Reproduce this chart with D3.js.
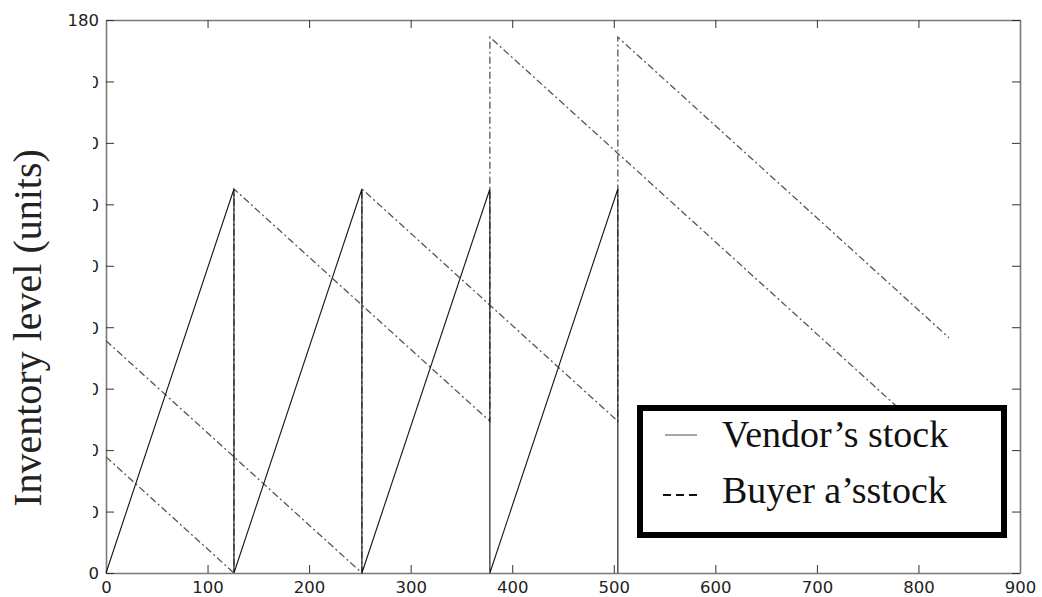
<!DOCTYPE html>
<html>
<head>
<meta charset="utf-8">
<script src="https://cdn.jsdelivr.net/npm/d3@7"></script>
<style>
  body { margin: 0; background: #fff; }
  svg { display: block; }
</style>
</head>
<body>
<div id="chart"></div>
<script>
// data
const xTicks = [0, 100, 200, 300, 400, 500, 600, 700, 800, 900];
const yTicks = [0, 20, 40, 60, 80, 100, 120, 140, 160, 180];

const vendorT = [0, 126, 126, 252, 252, 378, 378, 504, 504];
const vendorQ = [0, 125, 0, 125, 0, 125, 0, 125, 0];

const buyer1T = [0, 126, 126, 378, 378, 830];
const buyer1Q = [37.8, 0, 125, 49.4, 174.4, 38.8];

const buyer2T = [0, 252, 252, 504, 504, 830];
const buyer2Q = [75.6, 0, 125, 49.4, 174.4, 76.6];

const legendLabels = ['Vendor\u2019s stock', 'Buyer a\u2019sstock'];
const yTitle = 'Inventory level (units)';

const W = 1042, H = 597;
const margin = {top: 20, right: 22, bottom: 24, left: 106};

const svg = d3.select('#chart').append('svg')
  .attr('width', W).attr('height', H);

const x = d3.scaleLinear().domain([0, 900]).range([margin.left, W - margin.right]);
const y = d3.scaleLinear().domain([0, 180]).range([H - margin.bottom, margin.top]);

const axisColor = '#7a7a7a';
const tickFont = '"DejaVu Sans", Verdana, sans-serif';

// axes: ticks inward on all four sides (matlab style box)
const gx = svg.append('g').attr('transform', `translate(0,${y(0)})`)
  .call(d3.axisBottom(x).tickValues(xTicks).tickSizeInner(-8).tickSizeOuter(0).tickPadding(12));
const gxTop = svg.append('g').attr('transform', `translate(0,${y(180)})`)
  .call(d3.axisTop(x).tickValues(xTicks).tickSizeInner(-8).tickSizeOuter(0).tickFormat(''));
const gy = svg.append('g').attr('transform', `translate(${x(0)},0)`)
  .call(d3.axisLeft(y).tickValues(yTicks).tickSizeInner(-8).tickSizeOuter(0).tickPadding(8));
const gyRight = svg.append('g').attr('transform', `translate(${x(900)},0)`)
  .call(d3.axisRight(y).tickValues(yTicks).tickSizeInner(-8).tickSizeOuter(0).tickFormat(''));

[gx, gxTop, gy, gyRight].forEach(g => {
  g.select('.domain').attr('stroke', axisColor).attr('stroke-width', 1.6);
  g.selectAll('.tick line').attr('stroke', '#333').attr('stroke-width', 1);
  g.selectAll('.tick text').attr('fill', '#222')
    .style('font-family', tickFont).style('font-size', '16.5px');
});
gx.selectAll('.tick text').attr('dy', '0.5em');
gy.selectAll('.tick text').attr('dy', '0.35em').attr('x', -7);

// the y title label was pasted over most of the tick labels in the original
svg.append('rect')
  .attr('x', 0).attr('y', y(170)).attr('width', 93).attr('height', y(6) - y(170))
  .attr('fill', '#fff');

svg.append('text')
  .attr('transform', 'translate(41,328) rotate(-90)')
  .attr('text-anchor', 'middle')
  .style('font-family', '"Liberation Serif", "Times New Roman", serif')
  .style('font-size', '40px')
  .attr('fill', '#222')
  .text(yTitle);

const line = d3.line().x(d => x(d[0])).y(d => y(d[1]));

[[buyer1T, buyer1Q], [buyer2T, buyer2Q]].forEach(([ts, qs]) => {
  svg.append('path')
    .datum(ts.map((t, i) => [t, qs[i]]))
    .attr('d', line)
    .attr('fill', 'none')
    .attr('stroke', '#555')
    .attr('stroke-width', 1.3)
    .attr('stroke-dasharray', '7,3,2,3');
});

svg.append('path')
  .datum(vendorT.map((t, i) => [t, vendorQ[i]]))
  .attr('d', line)
  .attr('fill', 'none')
  .attr('stroke', '#111')
  .attr('stroke-width', 1.1);

// legend
const lg = svg.append('g').attr('transform', 'translate(640,408)');
lg.append('rect')
  .attr('width', 364).attr('height', 127)
  .attr('fill', '#fff').attr('stroke', '#000').attr('stroke-width', 6);

lg.append('line')
  .attr('x1', 25).attr('x2', 57).attr('y1', 27).attr('y2', 27)
  .attr('stroke', '#777').attr('stroke-width', 1.3);
lg.append('line')
  .attr('x1', 23).attr('x2', 57).attr('y1', 87).attr('y2', 87)
  .attr('stroke', '#111').attr('stroke-width', 2).attr('stroke-dasharray', '8,5');

lg.selectAll('text.leg')
  .data(legendLabels)
  .enter().append('text')
  .attr('class', 'leg')
  .attr('x', 82)
  .attr('y', (d, i) => 39 + i * 56)
  .style('font-family', '"Liberation Serif", "Times New Roman", serif')
  .style('font-size', '38px')
  .attr('fill', '#111')
  .text(d => d);
</script>
</body>
</html>
